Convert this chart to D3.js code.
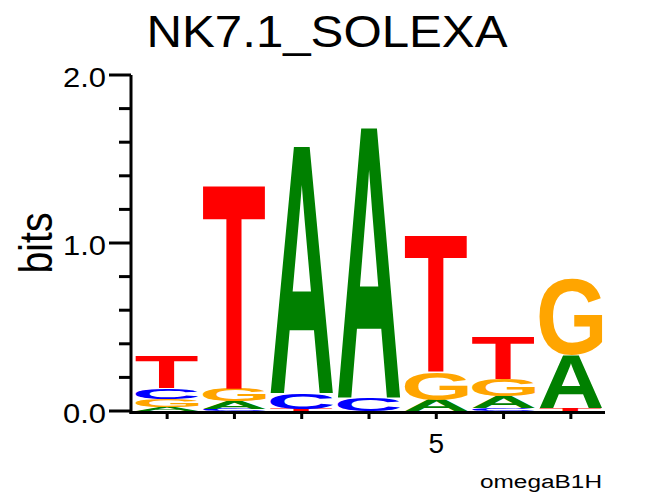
<html>
<head>
<meta charset="utf-8">
<title>NK7.1_SOLEXA</title>
<style>
  body { margin: 0; background: #fff; }
  text { font-family: "Liberation Sans", Arial, sans-serif; }
</style>
</head>
<body>
<script src="https://cdn.jsdelivr.net/npm/d3@7"></script>
<script>
// logo data: information (bits) of each base at each position
var positions = [1, 2, 3, 4, 5, 6, 7];
var bitsA = [0.025, 0.045, 1.49,  1.63, 0.065, 0.07,  0.315];
var bitsC = [0.065, 0.012, 0.095, 0.08, 0,     0.018, 0];
var bitsG = [0.045, 0.075, 0,     0,    0.165, 0.105, 0.452];
var bitsT = [0.195, 1.225, 0.012, 0,    0.822, 0.258, 0.015];
var yMajor = [0, 1, 2];
var yMajorLabels = ["0.0", "1.0", "2.0"];
var yMinor = [0.2, 0.4, 0.6, 0.8, 1.2, 1.4, 1.6, 1.8];
var xLabels = {5: "5"};

var colors = {A: "#008000", C: "#0000ff", G: "#ffa500", T: "#ff0000"};
var bases = {A: bitsA, C: bitsC, G: bitsG, T: bitsT};

var width = 654, height = 496;
var svg = d3.select("body").append("svg")
    .attr("width", width)
    .attr("height", height);

var x = d3.scaleLinear().domain([0.5, 7.5]).range([133.5, 604.5]);
var y = d3.scaleLinear().domain([0, 2]).range([411, 75]);

// measure ink box of each glyph so letters fill their cell
var ctx = document.createElement("canvas").getContext("2d");
ctx.font = "bold 100px 'Liberation Sans'";
function ink(ch) {
  var m = ctx.measureText(ch);
  return {l: m.actualBoundingBoxLeft, r: m.actualBoundingBoxRight,
          a: m.actualBoundingBoxAscent, d: m.actualBoundingBoxDescent};
}

var letterW = 63;
positions.forEach(function(p, i) {
  var stack = Object.keys(bases)
    .map(function(b) { return {base: b, v: bases[b][i]}; })
    .filter(function(d) { return d.v > 0; })
    .sort(function(a, b) { return a.v - b.v; });
  var acc = 0;
  stack.forEach(function(d) {
    var top = y(acc + d.v), bottom = y(acc);
    acc += d.v;
    var m = ink(d.base);
    var sx = letterW / (m.l + m.r), sy = (bottom - top) / (m.a + m.d);
    svg.append("g")
      .attr("transform", "translate(" + (x(p) - letterW / 2) + "," + top + ") scale(" + sx + "," + sy + ")")
      .append("text")
      .attr("x", m.l).attr("y", m.a)
      .attr("font-size", 100)
      .attr("font-weight", "bold")
      .attr("fill", colors[d.base])
      .text(d.base);
  });
});

// y axis
var gy = svg.append("g").attr("transform", "translate(131,0)");
gy.append("line").attr("x1", 0).attr("x2", 0).attr("y1", y(2)).attr("y2", 414)
  .attr("stroke", "#000").attr("stroke-width", 3);
gy.selectAll(".minor").data(yMinor).enter().append("line")
  .attr("x1", -12).attr("x2", 0).attr("y1", y).attr("y2", y)
  .attr("stroke", "#000").attr("stroke-width", 3);
gy.selectAll(".major").data(yMajor).enter().append("line")
  .attr("x1", -22).attr("x2", 0).attr("y1", y).attr("y2", y)
  .attr("stroke", "#000").attr("stroke-width", 3);
gy.selectAll(".lab").data(yMajor).enter().append("text")
  .attr("x", -25).attr("y", function(d) { return y(d) + 11.5; })
  .attr("text-anchor", "end")
  .attr("font-size", 28)
  .attr("textLength", 43).attr("lengthAdjust", "spacingAndGlyphs")
  .text(function(d, i) { return yMajorLabels[i]; });

// x axis
svg.append("line").attr("x1", 129.5).attr("x2", 605).attr("y1", 412.5).attr("y2", 412.5)
  .attr("stroke", "#000").attr("stroke-width", 3);
svg.selectAll(".xt").data(positions).enter().append("line")
  .attr("x1", x).attr("x2", x).attr("y1", 412).attr("y2", 419)
  .attr("stroke", "#000").attr("stroke-width", 3);
svg.selectAll(".xl").data(positions.filter(function(p) { return xLabels[p]; }))
  .enter().append("text")
  .attr("x", x).attr("y", 453)
  .attr("text-anchor", "middle")
  .attr("font-size", 28)
  .text(function(p) { return xLabels[p]; });

// titles
svg.append("text")
  .attr("x", 327).attr("y", 47)
  .attr("text-anchor", "middle")
  .attr("font-size", 45)
  .attr("textLength", 361).attr("lengthAdjust", "spacingAndGlyphs")
  .text("NK7.1_SOLEXA");

svg.append("text")
  .attr("transform", "translate(52,243) rotate(-90)")
  .attr("text-anchor", "middle")
  .attr("font-size", 46)
  .attr("textLength", 61).attr("lengthAdjust", "spacingAndGlyphs")
  .text("bits");

svg.append("text")
  .attr("x", 541).attr("y", 488)
  .attr("text-anchor", "middle")
  .attr("font-size", 18)
  .attr("textLength", 122).attr("lengthAdjust", "spacingAndGlyphs")
  .text("omegaB1H");
</script>
</body>
</html>
